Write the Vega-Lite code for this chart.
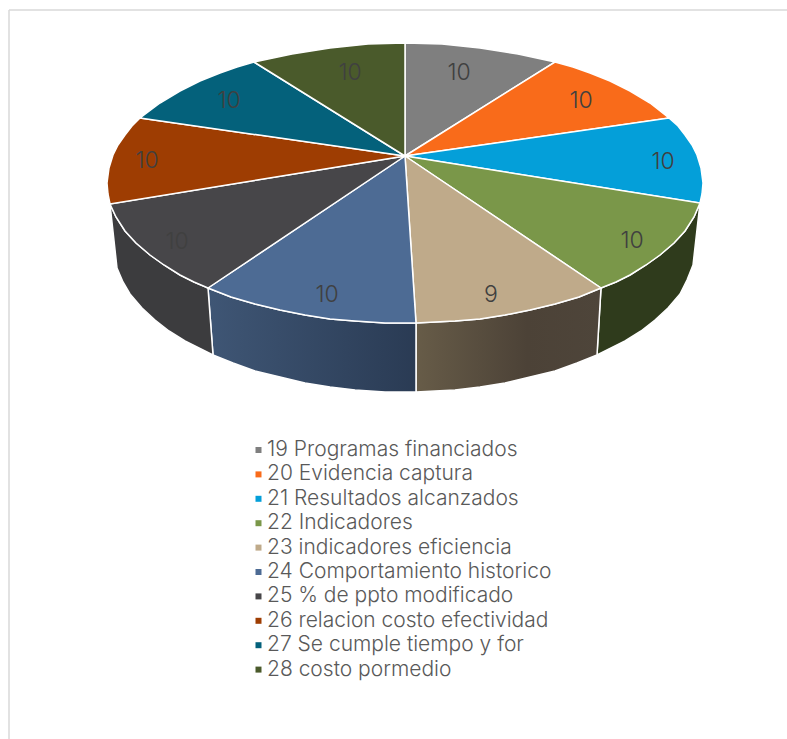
{"$schema":"https://vega.github.io/schema/vega-lite/v6.json","width":787,"height":739,"autosize":{"type":"none"},"padding":0,"background":"white","view":{"stroke":null},
"datasets":{"outline":[
{"serie":"19 Programas financiados","part":"top","i":0,"x":0,"y":0},{"serie":"19 Programas financiados","part":"top","i":1,"x":0,"y":-113},{"serie":"19 Programas financiados","part":"top","i":2,"x":37,"y":-112},{"serie":"19 Programas financiados","part":"top","i":3,"x":75,"y":-108},{"serie":"19 Programas financiados","part":"top","i":4,"x":113,"y":-102},{"serie":"19 Programas financiados","part":"top","i":5,"x":150,"y":-94},{"serie":"19 Programas financiados","part":"top","i":6,"x":0,"y":0},
{"serie":"20  Evidencia captura","part":"top","i":0,"x":0,"y":0},{"serie":"20  Evidencia captura","part":"top","i":1,"x":150,"y":-94},{"serie":"20  Evidencia captura","part":"top","i":2,"x":168,"y":-89},{"serie":"20  Evidencia captura","part":"top","i":3,"x":185,"y":-83},{"serie":"20  Evidencia captura","part":"top","i":4,"x":205,"y":-75},{"serie":"20  Evidencia captura","part":"top","i":5,"x":225,"y":-65},{"serie":"20  Evidencia captura","part":"top","i":6,"x":245,"y":-53},{"serie":"20  Evidencia captura","part":"top","i":7,"x":264,"y":-38},{"serie":"20  Evidencia captura","part":"top","i":8,"x":0,"y":0},
{"serie":"21 Resultados  alcanzados","part":"top","i":0,"x":0,"y":0},{"serie":"21 Resultados  alcanzados","part":"top","i":1,"x":264,"y":-38},{"serie":"21 Resultados  alcanzados","part":"top","i":2,"x":273,"y":-30},{"serie":"21 Resultados  alcanzados","part":"top","i":3,"x":280,"y":-21},{"serie":"21 Resultados  alcanzados","part":"top","i":4,"x":287,"y":-11},{"serie":"21 Resultados  alcanzados","part":"top","i":5,"x":292,"y":-1},{"serie":"21 Resultados  alcanzados","part":"top","i":6,"x":296,"y":12},{"serie":"21 Resultados  alcanzados","part":"top","i":7,"x":298,"y":27},{"serie":"21 Resultados  alcanzados","part":"top","i":8,"x":297,"y":38},{"serie":"21 Resultados  alcanzados","part":"top","i":9,"x":295,"y":47},{"serie":"21 Resultados  alcanzados","part":"top","i":10,"x":0,"y":0},
{"serie":"22 Indicadores","part":"top","i":0,"x":0,"y":0},{"serie":"22 Indicadores","part":"top","i":1,"x":295,"y":47},{"serie":"22 Indicadores","part":"top","i":2,"x":289,"y":61},{"serie":"22 Indicadores","part":"top","i":3,"x":280,"y":75},{"serie":"22 Indicadores","part":"top","i":4,"x":269,"y":87},{"serie":"22 Indicadores","part":"top","i":5,"x":255,"y":99},{"serie":"22 Indicadores","part":"top","i":6,"x":241,"y":109},{"serie":"22 Indicadores","part":"top","i":7,"x":225,"y":119},{"serie":"22 Indicadores","part":"top","i":8,"x":211,"y":126},{"serie":"22 Indicadores","part":"top","i":9,"x":196,"y":132},{"serie":"22 Indicadores","part":"top","i":10,"x":0,"y":0},
{"serie":"23 indicadores eficiencia","part":"top","i":0,"x":0,"y":0},{"serie":"23 indicadores eficiencia","part":"top","i":1,"x":196,"y":132},{"serie":"23 indicadores eficiencia","part":"top","i":2,"x":174,"y":141},{"serie":"23 indicadores eficiencia","part":"top","i":3,"x":150,"y":148},{"serie":"23 indicadores eficiencia","part":"top","i":4,"x":125,"y":154},{"serie":"23 indicadores eficiencia","part":"top","i":5,"x":100,"y":159},{"serie":"23 indicadores eficiencia","part":"top","i":6,"x":75,"y":163},{"serie":"23 indicadores eficiencia","part":"top","i":7,"x":50,"y":165},{"serie":"23 indicadores eficiencia","part":"top","i":8,"x":30,"y":166},{"serie":"23 indicadores eficiencia","part":"top","i":9,"x":11,"y":167},{"serie":"23 indicadores eficiencia","part":"top","i":10,"x":0,"y":0},
{"serie":"24 Comportamiento historico","part":"top","i":0,"x":0,"y":0},{"serie":"24 Comportamiento historico","part":"top","i":1,"x":11,"y":167},{"serie":"24 Comportamiento historico","part":"top","i":2,"x":-20,"y":167},{"serie":"24 Comportamiento historico","part":"top","i":3,"x":-50,"y":165},{"serie":"24 Comportamiento historico","part":"top","i":4,"x":-75,"y":163},{"serie":"24 Comportamiento historico","part":"top","i":5,"x":-100,"y":159},{"serie":"24 Comportamiento historico","part":"top","i":6,"x":-125,"y":154},{"serie":"24 Comportamiento historico","part":"top","i":7,"x":-150,"y":148},{"serie":"24 Comportamiento historico","part":"top","i":8,"x":-174,"y":141},{"serie":"24 Comportamiento historico","part":"top","i":9,"x":-197,"y":132},{"serie":"24 Comportamiento historico","part":"top","i":10,"x":0,"y":0},
{"serie":"25 % de ppto modificado","part":"top","i":0,"x":0,"y":0},{"serie":"25 % de ppto modificado","part":"top","i":1,"x":-197,"y":132},{"serie":"25 % de ppto modificado","part":"top","i":2,"x":-211,"y":126},{"serie":"25 % de ppto modificado","part":"top","i":3,"x":-225,"y":119},{"serie":"25 % de ppto modificado","part":"top","i":4,"x":-241,"y":109},{"serie":"25 % de ppto modificado","part":"top","i":5,"x":-255,"y":99},{"serie":"25 % de ppto modificado","part":"top","i":6,"x":-269,"y":87},{"serie":"25 % de ppto modificado","part":"top","i":7,"x":-280,"y":75},{"serie":"25 % de ppto modificado","part":"top","i":8,"x":-289,"y":61},{"serie":"25 % de ppto modificado","part":"top","i":9,"x":-295,"y":48},{"serie":"25 % de ppto modificado","part":"top","i":10,"x":0,"y":0},
{"serie":"26 relacion costo efectividad","part":"top","i":0,"x":0,"y":0},{"serie":"26 relacion costo efectividad","part":"top","i":1,"x":-295,"y":48},{"serie":"26 relacion costo efectividad","part":"top","i":2,"x":-297,"y":38},{"serie":"26 relacion costo efectividad","part":"top","i":3,"x":-298,"y":27},{"serie":"26 relacion costo efectividad","part":"top","i":4,"x":-296,"y":12},{"serie":"26 relacion costo efectividad","part":"top","i":5,"x":-292,"y":-1},{"serie":"26 relacion costo efectividad","part":"top","i":6,"x":-287,"y":-11},{"serie":"26 relacion costo efectividad","part":"top","i":7,"x":-280,"y":-21},{"serie":"26 relacion costo efectividad","part":"top","i":8,"x":-273,"y":-30},{"serie":"26 relacion costo efectividad","part":"top","i":9,"x":-265,"y":-38},{"serie":"26 relacion costo efectividad","part":"top","i":10,"x":0,"y":0},
{"serie":"27 Se cumple  tiempo y for","part":"top","i":0,"x":0,"y":0},{"serie":"27 Se cumple  tiempo y for","part":"top","i":1,"x":-265,"y":-38},{"serie":"27 Se cumple  tiempo y for","part":"top","i":2,"x":-245,"y":-53},{"serie":"27 Se cumple  tiempo y for","part":"top","i":3,"x":-225,"y":-65},{"serie":"27 Se cumple  tiempo y for","part":"top","i":4,"x":-205,"y":-75},{"serie":"27 Se cumple  tiempo y for","part":"top","i":5,"x":-185,"y":-83},{"serie":"27 Se cumple  tiempo y for","part":"top","i":6,"x":-168,"y":-89},{"serie":"27 Se cumple  tiempo y for","part":"top","i":7,"x":-151,"y":-94},{"serie":"27 Se cumple  tiempo y for","part":"top","i":8,"x":0,"y":0},
{"serie":"28  costo pormedio","part":"top","i":0,"x":0,"y":0},{"serie":"28  costo pormedio","part":"top","i":1,"x":-151,"y":-94},{"serie":"28  costo pormedio","part":"top","i":2,"x":-113,"y":-102},{"serie":"28  costo pormedio","part":"top","i":3,"x":-75,"y":-108},{"serie":"28  costo pormedio","part":"top","i":4,"x":-37,"y":-112},{"serie":"28  costo pormedio","part":"top","i":5,"x":0,"y":-113},{"serie":"28  costo pormedio","part":"top","i":6,"x":0,"y":0},
{"serie":"22 Indicadores","part":"wall","i":0,"x":295,"y":47},{"serie":"22 Indicadores","part":"wall","i":1,"x":289,"y":61},{"serie":"22 Indicadores","part":"wall","i":2,"x":280,"y":75},{"serie":"22 Indicadores","part":"wall","i":3,"x":269,"y":87},{"serie":"22 Indicadores","part":"wall","i":4,"x":255,"y":99},{"serie":"22 Indicadores","part":"wall","i":5,"x":241,"y":109},{"serie":"22 Indicadores","part":"wall","i":6,"x":225,"y":119},{"serie":"22 Indicadores","part":"wall","i":7,"x":211,"y":126},{"serie":"22 Indicadores","part":"wall","i":8,"x":196,"y":132},{"serie":"22 Indicadores","part":"wall","i":9,"x":192,"y":199},{"serie":"22 Indicadores","part":"wall","i":10,"x":206,"y":192},{"serie":"22 Indicadores","part":"wall","i":11,"x":220,"y":185},{"serie":"22 Indicadores","part":"wall","i":12,"x":236,"y":175},{"serie":"22 Indicadores","part":"wall","i":13,"x":250,"y":164},{"serie":"22 Indicadores","part":"wall","i":14,"x":263,"y":152},{"serie":"22 Indicadores","part":"wall","i":15,"x":275,"y":138},{"serie":"22 Indicadores","part":"wall","i":16,"x":282,"y":124},{"serie":"22 Indicadores","part":"wall","i":17,"x":288,"y":109},{"serie":"22 Indicadores","part":"wall","i":18,"x":295,"y":47},
{"serie":"23 indicadores eficiencia","part":"wall","i":0,"x":196,"y":132},{"serie":"23 indicadores eficiencia","part":"wall","i":1,"x":174,"y":141},{"serie":"23 indicadores eficiencia","part":"wall","i":2,"x":150,"y":148},{"serie":"23 indicadores eficiencia","part":"wall","i":3,"x":125,"y":154},{"serie":"23 indicadores eficiencia","part":"wall","i":4,"x":100,"y":159},{"serie":"23 indicadores eficiencia","part":"wall","i":5,"x":75,"y":163},{"serie":"23 indicadores eficiencia","part":"wall","i":6,"x":50,"y":165},{"serie":"23 indicadores eficiencia","part":"wall","i":7,"x":30,"y":166},{"serie":"23 indicadores eficiencia","part":"wall","i":8,"x":11,"y":167},{"serie":"23 indicadores eficiencia","part":"wall","i":9,"x":11,"y":236},{"serie":"23 indicadores eficiencia","part":"wall","i":10,"x":30,"y":235},{"serie":"23 indicadores eficiencia","part":"wall","i":11,"x":50,"y":234},{"serie":"23 indicadores eficiencia","part":"wall","i":12,"x":75,"y":231},{"serie":"23 indicadores eficiencia","part":"wall","i":13,"x":100,"y":227},{"serie":"23 indicadores eficiencia","part":"wall","i":14,"x":125,"y":221},{"serie":"23 indicadores eficiencia","part":"wall","i":15,"x":150,"y":215},{"serie":"23 indicadores eficiencia","part":"wall","i":16,"x":172,"y":207},{"serie":"23 indicadores eficiencia","part":"wall","i":17,"x":192,"y":199},{"serie":"23 indicadores eficiencia","part":"wall","i":18,"x":196,"y":132},
{"serie":"24 Comportamiento historico","part":"wall","i":0,"x":11,"y":167},{"serie":"24 Comportamiento historico","part":"wall","i":1,"x":-20,"y":167},{"serie":"24 Comportamiento historico","part":"wall","i":2,"x":-50,"y":165},{"serie":"24 Comportamiento historico","part":"wall","i":3,"x":-75,"y":163},{"serie":"24 Comportamiento historico","part":"wall","i":4,"x":-100,"y":159},{"serie":"24 Comportamiento historico","part":"wall","i":5,"x":-125,"y":154},{"serie":"24 Comportamiento historico","part":"wall","i":6,"x":-150,"y":148},{"serie":"24 Comportamiento historico","part":"wall","i":7,"x":-174,"y":141},{"serie":"24 Comportamiento historico","part":"wall","i":8,"x":-197,"y":132},{"serie":"24 Comportamiento historico","part":"wall","i":9,"x":-192,"y":199},{"serie":"24 Comportamiento historico","part":"wall","i":10,"x":-172,"y":207},{"serie":"24 Comportamiento historico","part":"wall","i":11,"x":-150,"y":215},{"serie":"24 Comportamiento historico","part":"wall","i":12,"x":-125,"y":221},{"serie":"24 Comportamiento historico","part":"wall","i":13,"x":-100,"y":227},{"serie":"24 Comportamiento historico","part":"wall","i":14,"x":-75,"y":231},{"serie":"24 Comportamiento historico","part":"wall","i":15,"x":-50,"y":234},{"serie":"24 Comportamiento historico","part":"wall","i":16,"x":-20,"y":236},{"serie":"24 Comportamiento historico","part":"wall","i":17,"x":11,"y":236},{"serie":"24 Comportamiento historico","part":"wall","i":18,"x":11,"y":167},
{"serie":"25 % de ppto modificado","part":"wall","i":0,"x":-197,"y":132},{"serie":"25 % de ppto modificado","part":"wall","i":1,"x":-211,"y":126},{"serie":"25 % de ppto modificado","part":"wall","i":2,"x":-225,"y":119},{"serie":"25 % de ppto modificado","part":"wall","i":3,"x":-241,"y":109},{"serie":"25 % de ppto modificado","part":"wall","i":4,"x":-255,"y":99},{"serie":"25 % de ppto modificado","part":"wall","i":5,"x":-269,"y":87},{"serie":"25 % de ppto modificado","part":"wall","i":6,"x":-280,"y":75},{"serie":"25 % de ppto modificado","part":"wall","i":7,"x":-289,"y":61},{"serie":"25 % de ppto modificado","part":"wall","i":8,"x":-295,"y":48},{"serie":"25 % de ppto modificado","part":"wall","i":9,"x":-288,"y":112},{"serie":"25 % de ppto modificado","part":"wall","i":10,"x":-282,"y":126},{"serie":"25 % de ppto modificado","part":"wall","i":11,"x":-275,"y":138},{"serie":"25 % de ppto modificado","part":"wall","i":12,"x":-263,"y":152},{"serie":"25 % de ppto modificado","part":"wall","i":13,"x":-250,"y":164},{"serie":"25 % de ppto modificado","part":"wall","i":14,"x":-236,"y":175},{"serie":"25 % de ppto modificado","part":"wall","i":15,"x":-220,"y":185},{"serie":"25 % de ppto modificado","part":"wall","i":16,"x":-206,"y":192},{"serie":"25 % de ppto modificado","part":"wall","i":17,"x":-192,"y":199},{"serie":"25 % de ppto modificado","part":"wall","i":18,"x":-197,"y":132}
],
"labels":[
{"serie":"19 Programas financiados","valor":10,"x":54,"y":-83},{"serie":"20  Evidencia captura","valor":10,"x":176,"y":-55},{"serie":"21 Resultados  alcanzados","valor":10,"x":258,"y":6},{"serie":"22 Indicadores","valor":10,"x":227,"y":85},{"serie":"23 indicadores eficiencia","valor":9,"x":86,"y":139},{"serie":"24 Comportamiento historico","valor":10,"x":-78,"y":139},{"serie":"25 % de ppto modificado","valor":10,"x":-228,"y":86},{"serie":"26 relacion costo efectividad","valor":10,"x":-258,"y":5},{"serie":"27 Se cumple  tiempo y for","valor":10,"x":-176,"y":-55},{"serie":"28  costo pormedio","valor":10,"x":-55,"y":-83}],
"frame":[{"x":-396,"y":-146,"x2":382,"y2":-146},{"x":-396,"y":-146,"x2":-396,"y2":583}]},
"encoding":{"x":{"field":"x","type":"quantitative","scale":{"domain":[-405,382]},"axis":null},"y":{"field":"y","type":"quantitative","scale":{"domain":[-156,583],"reverse":true},"axis":null}},
"layer":[
{"data":{"name":"frame"},"mark":{"type":"rule","stroke":"#d9d9d9","strokeWidth":1.5},"encoding":{"x2":{"field":"x2"},"y2":{"field":"y2"}}},
{"data":{"name":"outline"},"transform":[{"filter":"datum.part==='wall' && datum.serie==='22 Indicadores'"}],"mark":{"type":"line","fill":"#2f3b1c","stroke":"white","strokeWidth":1.5},"encoding":{"order":{"field":"i"}}},
{"data":{"name":"outline"},"transform":[{"filter":"datum.part==='wall' && datum.serie==='23 indicadores eficiencia'"}],"mark":{"type":"line","fill":{"gradient":"linear","x1":0,"x2":1,"y1":0,"y2":0,"stops":[{"offset":0,"color":"#675c48"},{"offset":0.6,"color":"#4c4237"},{"offset":1,"color":"#4e453a"}]},"stroke":"white","strokeWidth":1.5},"encoding":{"order":{"field":"i"}}},
{"data":{"name":"outline"},"transform":[{"filter":"datum.part==='wall' && datum.serie==='24 Comportamiento historico'"}],"mark":{"type":"line","fill":{"gradient":"linear","x1":0,"x2":1,"y1":0,"y2":0,"stops":[{"offset":0,"color":"#3f5675"},{"offset":1,"color":"#2a3b54"}]},"stroke":"white","strokeWidth":1.5},"encoding":{"order":{"field":"i"}}},
{"data":{"name":"outline"},"transform":[{"filter":"datum.part==='wall' && datum.serie==='25 % de ppto modificado'"}],"mark":{"type":"line","fill":"#3c3c3e","stroke":"white","strokeWidth":1.5},"encoding":{"order":{"field":"i"}}},
{"data":{"name":"outline"},"transform":[{"filter":"datum.part==='top'"}],"mark":{"type":"line","filled":true,"stroke":"white","strokeWidth":1.5},"encoding":{"order":{"field":"i"},"detail":{"field":"serie"},"fill":{"field":"serie","type":"nominal","scale":{"domain":["19 Programas financiados","20  Evidencia captura","21 Resultados  alcanzados","22 Indicadores","23 indicadores eficiencia","24 Comportamiento historico","25 % de ppto modificado","26 relacion costo efectividad","27 Se cumple  tiempo y for","28  costo pormedio"],"range":["#7f7f7f","#f96b1a","#049fd9","#7a9749","#bfaa8a","#4d6b94","#474649","#9e3d02","#04617b","#4a5a2b"]},"legend":{"orient":"none","legendX":248,"legendY":439.5,"title":null,"symbolType":"square","symbolSize":36,"symbolStrokeWidth":0,"labelFont":"Inter","labelFontSize":21,"labelFontWeight":300,"labelColor":"#595959","labelLimit":400,"rowPadding":2.4,"labelOffset":-2,"values":["19 Programas financiados","20  Evidencia captura","21 Resultados  alcanzados","22 Indicadores","23 indicadores eficiencia","24 Comportamiento historico","25 % de ppto modificado","26 relacion costo efectividad","27 Se cumple  tiempo y for","28  costo pormedio"]}}}},
{"data":{"name":"labels"},"mark":{"type":"text","font":"Inter","fontWeight":300,"fontSize":23,"color":"#404040","align":"center","baseline":"middle"},"encoding":{"text":{"field":"valor","type":"quantitative"}}}
]}
